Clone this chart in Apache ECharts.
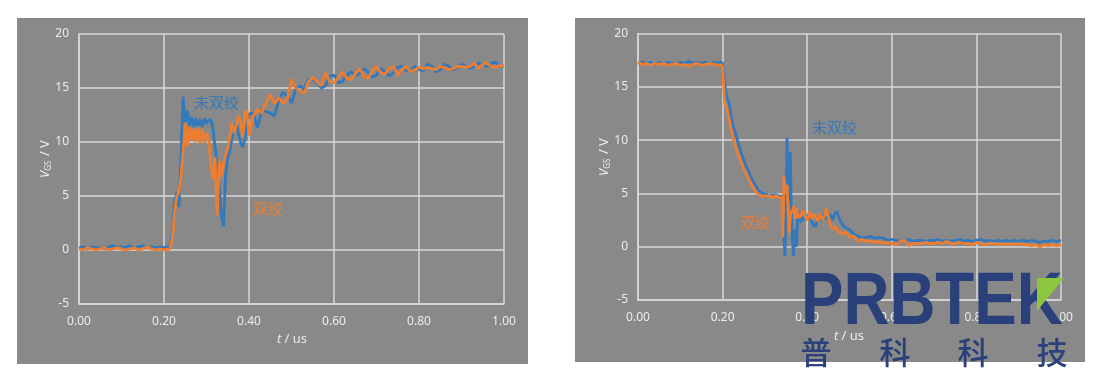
<!DOCTYPE html>
<html>
<head>
<meta charset="utf-8">
<script src="https://cdn.jsdelivr.net/npm/echarts@6/dist/echarts.min.js"></script>
<style>
  html, body { margin: 0; padding: 0; background: #fff; }
  #chart { width: 1102px; height: 377px; }
</style>
</head>
<body>
<div id="chart"></div>
<script>
// 开通过程 (left) - time in us
const tLeft = [
  0.00, 0.01, 0.02, 0.03, 0.04, 0.05, 0.06, 0.07, 0.08, 0.09, 0.10, 0.11, 0.12, 0.13, 0.14, 0.15, 0.16, 0.17, 0.18, 0.19, 0.20,
  0.205, 0.21, 0.215, 0.22, 0.225, 0.23, 0.235, 0.24, 0.245, 0.25, 0.255, 0.26, 0.265, 0.27, 0.275, 0.28, 0.285, 0.29, 0.295, 0.30,
  0.305, 0.31, 0.315, 0.32, 0.325, 0.33, 0.335, 0.34, 0.345, 0.35, 0.355, 0.36, 0.365, 0.37, 0.375, 0.38, 0.385, 0.39, 0.395, 0.40,
  0.41, 0.42, 0.43, 0.44, 0.45, 0.46, 0.47, 0.48, 0.49, 0.50, 0.51, 0.52, 0.53, 0.54, 0.55, 0.56, 0.57, 0.58, 0.59, 0.60,
  0.61, 0.62, 0.63, 0.64, 0.65, 0.66, 0.67, 0.68, 0.69, 0.70, 0.71, 0.72, 0.73, 0.74, 0.75, 0.76, 0.77, 0.78, 0.79, 0.80,
  0.81, 0.82, 0.83, 0.84, 0.85, 0.86, 0.87, 0.88, 0.89, 0.90, 0.91, 0.92, 0.93, 0.94, 0.95, 0.96, 0.97, 0.98, 0.99, 1.00
];
const untwistedOn = [
  0.2, 0.3, 0.1, 0.3, 0.2, 0.2, 0.1, 0.3, 0.4, 0.2, 0.3, 0.2, 0.4, 0.2, 0.3, 0.4, 0.2, 0.3, 0.2, 0.3, 0.2,
  0.3, 0.2, 0.4, 1.6, 4.4, 5.3, 4.0, 8.5, 14.2, 11.6, 12.9, 11.5, 12.3, 11.4, 12.2, 11.5, 12.1, 11.4, 12.2, 11.7,
  12.0, 12.1, 11.3, 9.5, 7.8, 5.8, 3.2, 2.2, 7.0, 8.6, 9.2, 10.4, 11.2, 11.8, 10.8, 10.0, 9.5, 10.2, 11.5, 12.6,
  12.7, 11.3, 13.0, 12.8, 12.7, 12.4, 13.9, 14.6, 14.3, 13.6, 14.9, 15.2, 14.9, 15.8, 15.8, 15.5, 15.0, 15.2, 16.1, 16.2,
  15.5, 15.6, 16.2, 16.5, 16.2, 16.3, 16.8, 16.5, 16.0, 16.2, 16.8, 16.5, 16.1, 16.4, 16.9, 17.0, 16.6, 16.6, 17.0, 16.7,
  16.6, 17.2, 17.0, 16.5, 16.7, 17.2, 17.0, 16.7, 16.9, 17.2, 17.0, 16.8, 17.0, 17.3, 17.2, 17.0, 17.3, 17.4, 17.1, 17.0
];
const twistedOn = [
  0.1, 0.0, 0.2, 0.1, 0.0, 0.1, 0.2, 0.0, 0.1, 0.2, 0.1, 0.0, 0.1, 0.2, 0.0, 0.1, 0.3, 0.1, 0.0, 0.1, 0.0,
  0.1, 0.0, 0.2, 1.2, 3.5, 5.0, 5.3, 6.8, 9.2, 11.8, 9.6, 11.4, 10.2, 11.2, 10.0, 11.3, 9.9, 11.2, 9.9, 10.8,
  10.4, 8.0, 6.6, 8.6, 3.2, 8.2, 6.8, 8.0, 8.8, 9.4, 10.4, 11.8, 10.8, 11.6, 12.4, 11.9, 10.4, 12.6, 13.0, 10.6,
  12.4, 13.0, 12.7, 13.6, 14.4, 13.5, 14.1, 13.6, 13.9, 15.8, 15.0, 14.7, 14.5, 15.6, 16.0, 15.6, 15.2, 16.4, 15.6, 15.5,
  15.9, 16.5, 15.9, 15.8, 16.3, 16.8, 16.1, 15.9, 16.6, 17.0, 16.4, 16.3, 16.8, 17.0, 16.2, 16.7, 17.0, 16.5, 16.7, 16.9,
  16.8, 16.9, 16.8, 16.7, 17.0, 16.9, 16.7, 16.8, 17.0, 17.0, 16.9, 17.0, 17.3, 16.8, 17.2, 17.3, 17.0, 16.9, 17.1, 17.0
];

// 关断过程 (right)
const tRight = [
  0.00, 0.01, 0.02, 0.03, 0.04, 0.05, 0.06, 0.07, 0.08, 0.09, 0.10, 0.11, 0.12, 0.13, 0.14, 0.15, 0.16, 0.17, 0.18, 0.19,
  0.195, 0.20, 0.205, 0.21, 0.215, 0.22, 0.225, 0.23, 0.235, 0.24, 0.245, 0.25, 0.255, 0.26, 0.265, 0.27, 0.275, 0.28,
  0.285, 0.29, 0.295, 0.30, 0.305, 0.31, 0.315, 0.32, 0.325, 0.33, 0.335,
  0.34, 0.3425, 0.345, 0.3475, 0.35, 0.3525, 0.355, 0.3575, 0.36, 0.3625, 0.365, 0.3675, 0.37, 0.3725, 0.375, 0.3775, 0.38,
  0.385, 0.39, 0.395, 0.40, 0.405, 0.41, 0.415, 0.42, 0.425, 0.43, 0.435, 0.44, 0.445, 0.45, 0.455, 0.46, 0.465, 0.47,
  0.475, 0.48, 0.485, 0.49, 0.495, 0.50,
  0.51, 0.52, 0.53, 0.54, 0.55, 0.56, 0.57, 0.58, 0.59, 0.60, 0.61, 0.62, 0.63, 0.64, 0.65, 0.66, 0.67, 0.68, 0.69, 0.70,
  0.71, 0.72, 0.73, 0.74, 0.75, 0.76, 0.77, 0.78, 0.79, 0.80, 0.81, 0.82, 0.83, 0.84, 0.85, 0.86, 0.87, 0.88, 0.89, 0.90,
  0.91, 0.92, 0.93, 0.94, 0.95, 0.96, 0.97, 0.98, 0.99, 1.00
];
const untwistedOff = [
  17.2, 17.3, 17.2, 17.3, 17.1, 17.3, 17.2, 17.3, 17.2, 17.2, 17.3, 17.2, 17.4, 17.2, 17.3, 17.2, 17.3, 17.2, 17.3, 17.2,
  17.3, 17.2, 15.4, 13.9, 13.6, 12.2, 11.3, 10.7, 10.0, 9.3, 8.7, 8.1, 7.6, 7.2, 6.7, 6.3, 5.9, 5.6,
  5.3, 5.1, 5.0, 4.9, 4.9, 4.8, 4.9, 4.8, 4.9, 4.8, 4.7,
  4.7, 4.6, 1.0, -0.9, 4.0, 10.2, 4.2, 6.0, 8.9, 3.0, 0.8, -0.9, 1.6, 0.6, 0.0, 3.4, 2.8,
  2.3, 2.8, 2.5, 3.0, 2.8, 2.4, 2.0, 1.9, 2.8, 2.5, 2.6, 3.1, 2.6, 2.9, 3.0, 2.5, 3.1, 3.3,
  2.7, 2.3, 2.0, 1.8, 1.7, 1.6,
  1.2, 1.0, 0.8, 0.9, 0.95, 0.8, 0.85, 0.8, 0.6, 0.7, 0.6, 0.5, 0.6, 0.7, 0.5, 0.6, 0.6, 0.5, 0.6, 0.6,
  0.7, 0.5, 0.6, 0.5, 0.6, 0.7, 0.5, 0.6, 0.5, 0.6, 0.7, 0.5, 0.6, 0.5, 0.6, 0.5, 0.6, 0.5, 0.6, 0.5,
  0.6, 0.5, 0.6, 0.5, 0.4, 0.5, 0.5, 0.6, 0.5, 0.6
];
const twistedOff = [
  17.3, 17.1, 17.2, 17.0, 17.2, 17.1, 17.2, 17.0, 17.1, 17.2, 17.0, 17.1, 16.9, 17.1, 17.2, 17.0, 17.1, 17.2, 17.1, 17.0,
  17.1, 16.9, 13.4, 13.0, 12.1, 11.0, 10.2, 9.5, 8.9, 8.3, 7.8, 7.3, 6.9, 6.5, 6.1, 5.7, 5.4, 5.1,
  4.9, 4.8, 4.7, 4.8, 4.7, 4.8, 4.7, 4.6, 4.8, 4.7, 4.6,
  4.5, 0.9, 6.6, 5.3, 5.0, 5.8, 3.0, 1.3, 2.8, 3.4, 3.2, 3.8, 3.3, 2.6, 3.6, 3.0, 2.7,
  2.9, 3.4, 2.8, 2.5, 3.3, 2.6, 3.0, 2.8, 2.4, 3.1, 2.5, 2.8, 3.6, 2.8, 2.0, 1.6, 1.9, 1.7,
  1.3, 1.4, 1.1, 1.4, 1.2, 0.9,
  1.0, 0.5, 0.7, 0.5, 0.5, 0.4, 0.5, 0.3, 0.4, 0.3, 0.2, 0.5, 0.6, 0.1, 0.3, 0.3, 0.3, 0.4, 0.3, 0.3,
  0.4, 0.3, 0.5, 0.3, 0.3, 0.4, 0.3, 0.3, 0.2, 0.4, 0.3, 0.2, 0.3, 0.3, 0.2, 0.3, 0.2, 0.3, 0.2, 0.3,
  0.2, 0.2, 0.1, 0.2, 0.0, 0.2, 0.1, 0.2, 0.1, 0.2
];

const seriesNames = ['未双绞', '双绞'];

const chart = echarts.init(document.getElementById('chart'));

const panelColor = '#898989';
const gridColor = '#d9d9d9';
const textColor = '#ececec';
const blue = '#3279be';
const orange = '#ed7d31';
const navy = '#2a407b';

const pairs = (ts, vs) => ts.map((t, i) => [t, vs[i]]);

const xAxisFor = (gridIndex) => ({
  type: 'value',
  gridIndex,
  min: 0,
  max: 1,
  interval: 0.2,
  axisLine: { show: true, onZero: false, lineStyle: { color: gridColor, width: 1.5 } },
  axisTick: { show: false },
  axisLabel: {
    color: textColor,
    fontFamily: 'Noto Sans',
    fontSize: 12,
    margin: 12,
    formatter: (v) => v.toFixed(2),
  },
  splitLine: { show: true, lineStyle: { color: gridColor, width: 1.5 } },
});

const yAxisFor = (gridIndex) => ({
  type: 'value',
  gridIndex,
  min: -5,
  max: 20,
  interval: 5,
  axisLine: { show: true, lineStyle: { color: gridColor, width: 1.5 } },
  axisTick: { show: false },
  axisLabel: { color: textColor, fontFamily: 'Noto Sans', fontSize: 12, margin: 10 },
  splitLine: { show: true, lineStyle: { color: gridColor, width: 1.5 } },
});

const lineSeries = (name, data, color, idx) => ({
  name,
  type: 'line',
  xAxisIndex: idx,
  yAxisIndex: idx,
  data,
  showSymbol: false,
  sampling: null,
  lineStyle: { color, width: 2.8 },
  itemStyle: { color },
  animation: false,
});

const vgsLabel = (x, y) => ({
  type: 'text',
  x,
  y,
  rotation: Math.PI / 2,
  z: 10,
  style: {
    text: '{i|V}{s|GS}{n| / V}',
    fill: textColor,
    align: 'center',
    verticalAlign: 'middle',
    rich: {
      i: { fontSize: 13, fontStyle: 'italic', fontFamily: 'Noto Sans', fill: textColor },
      s: { fontSize: 8, fontFamily: 'Noto Sans', fill: textColor, padding: [7, 1, 0, 0] },
      n: { fontSize: 13, fontFamily: 'Noto Sans', fill: textColor },
    },
  },
});

const tLabel = (x, y) => ({
  type: 'text',
  x,
  y,
  z: 10,
  style: {
    text: '{i|t}{n| / us}',
    align: 'center',
    verticalAlign: 'middle',
    rich: {
      i: { fontSize: 13, fontStyle: 'italic', fontFamily: 'Noto Sans', fill: textColor },
      n: { fontSize: 13, fontFamily: 'Noto Sans', fill: textColor },
    },
  },
});

const note = (text, x, y, color) => ({
  type: 'text',
  x,
  y,
  z: 10,
  style: {
    text,
    fill: color,
    font: '15px "Noto Sans CJK SC"',
    verticalAlign: 'middle',
  },
});

const cjk = (ch, x) => ({
  type: 'text',
  x,
  y: 352,
  z: 50,
  style: { text: ch, fill: navy, font: '500 31px "Noto Sans CJK SC"', align: 'center', verticalAlign: 'middle' },
});

chart.setOption({
  backgroundColor: '#ffffff',
  animation: false,
  grid: [
    { left: 79, top: 34, width: 425, height: 270 },
    { left: 638, top: 33.5, width: 423, height: 266.5 },
  ],
  xAxis: [xAxisFor(0), xAxisFor(1)],
  yAxis: [yAxisFor(0), yAxisFor(1)],
  series: [
    lineSeries(seriesNames[0], pairs(tLeft, untwistedOn), blue, 0),
    lineSeries(seriesNames[1], pairs(tLeft, twistedOn), orange, 0),
    lineSeries(seriesNames[0], pairs(tRight, untwistedOff), blue, 1),
    lineSeries(seriesNames[1], pairs(tRight, twistedOff), orange, 1),
  ],
  graphic: [
    { type: 'rect', z: -10, shape: { x: 17, y: 18, width: 511, height: 346 }, style: { fill: panelColor } },
    { type: 'rect', z: -10, shape: { x: 575, y: 18, width: 510, height: 344 }, style: { fill: panelColor } },
    vgsLabel(45, 159),
    vgsLabel(604, 157),
    tLabel(292, 339),
    tLabel(849, 336),
    note('未双绞', 194, 102, blue),
    note('双绞', 253, 208, orange),
    note('未双绞', 812, 127, blue),
    note('双绞', 740, 222, orange),
    // watermark
    {
      type: 'text',
      x: 801,
      y: 304,
      scaleX: 0.86,
      z: 50,
      style: { text: 'PRBTEK', fill: navy, font: 'bold 74px "Liberation Sans"', verticalAlign: 'middle' },
    },
    {
      type: 'polygon',
      z: 51,
      shape: { points: [[1037, 278], [1064, 278], [1037, 311]] },
      style: { fill: '#8dc63f' },
    },
    cjk('普', 816),
    cjk('科', 895),
    cjk('科', 973),
    cjk('技', 1052),
  ],
});
</script>
</body>
</html>
